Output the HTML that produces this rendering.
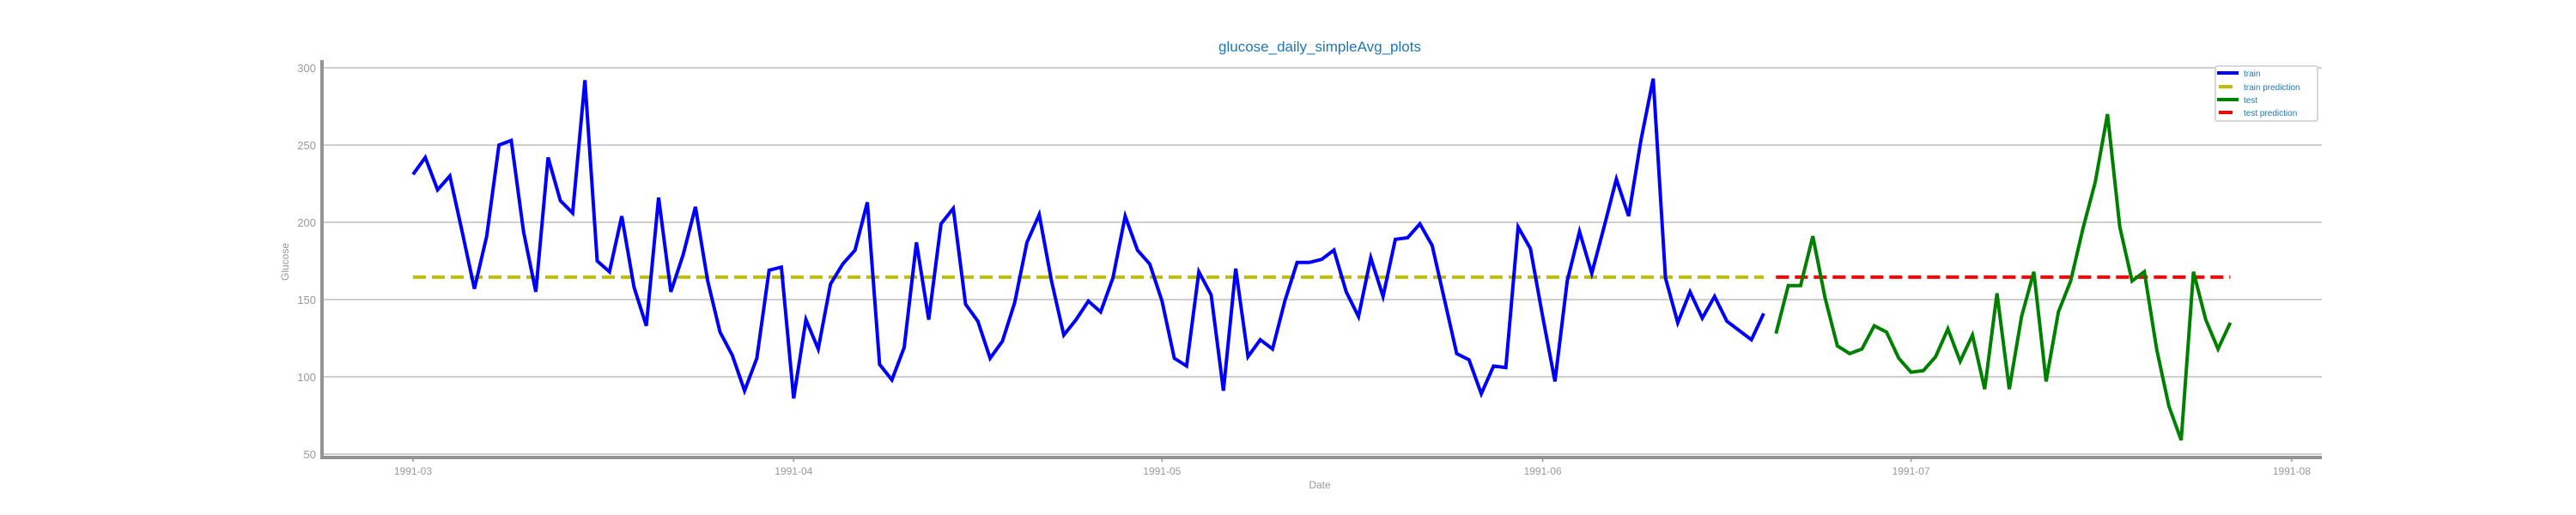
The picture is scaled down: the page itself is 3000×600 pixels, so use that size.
<!DOCTYPE html>
<html><head><meta charset="utf-8"><style>
html,body{margin:0;padding:0;background:#fff;}
svg{display:block;font-family:"Liberation Sans",sans-serif;}
</style></head><body>
<svg id="chart" width="3000" height="600" viewBox="0 0 3000 600" xmlns="http://www.w3.org/2000/svg">
<text x="1537" y="60" text-anchor="middle" font-size="17" fill="#1f77b4">glucose_daily_simpleAvg_plots</text>
<text x="336" y="305" text-anchor="middle" font-size="12" fill="#999" transform="rotate(-90 336 305)">Glucose</text>
<text x="1537" y="569" text-anchor="middle" font-size="12" fill="#999">Date</text>
<g id="grid"></g>
<g id="series"></g>
<g id="axes"></g>
<g>
<rect x="2580" y="77" width="119" height="64" fill="#fff" stroke="#ccc" stroke-width="1.5" rx="2"/>
<g><line x1="2582" y1="85" x2="2607" y2="85" stroke="#0000ff" stroke-width="4"/><text x="2613" y="89" font-size="10" fill="#1f77b4">train</text></g>
<g><line x1="2584" y1="101" x2="2600" y2="101" stroke="#bfbf00" stroke-width="4"/><text x="2613" y="105" font-size="10" fill="#1f77b4">train prediction</text></g>
<g><line x1="2582" y1="116" x2="2607" y2="116" stroke="#008000" stroke-width="4"/><text x="2613" y="120" font-size="10" fill="#1f77b4">test</text></g>
<g><line x1="2584" y1="131" x2="2600" y2="131" stroke="#ff0000" stroke-width="4"/><text x="2613" y="135" font-size="10" fill="#1f77b4">test prediction</text></g>
</g>
</svg>
<script>
const trainValues = [231,242,221,230,194,157,191,250,253,194,155,242,214,206,292,175,168,204,158,133,216,155,179,210,162,129,114,91,112,169,171,86,137,118,160,173,182,213,108,98,119,187,137,199,209,147,136,112,
123,148,187,205,162,127,137,149,142,164,204,182,173,149,112,107,168,153,91,170,113,124,118,149,174,174,176,182,155,139,177,152,189,190,199,185,150,115,111,89,107,106,197,183,139,97,162,194,167,197,228,204,253,293,164,135,155,138,152,136,130,124,141];
const testValues = [128,159,159,191,151,120,115,118,133,129,112,103,104,113,131,110,127,92,154,92,139,168,97,142,162,196,226,270,197,162,168,118,81,59,168,137,118,135];
const trainPred = 164.5;
const testPred = 164.5;
const yTicks = [50,100,150,200,250,300];
const xTickLabels = ['1991-03','1991-04','1991-05','1991-06','1991-07','1991-08'];
const xTickDays = [0,31,61,92,122,153];

const NS='http://www.w3.org/2000/svg';
const X0=375,X1=2704,Y0=70,YB=533;
function yScale(v){return 79+(300-v)*1.8;}
function xScale(d){return 481+d*14.3;}
function mk(tag,attrs,parent){const e=document.createElementNS(NS,tag);for(const k in attrs)e.setAttribute(k,attrs[k]);parent.appendChild(e);return e;}
const grid=document.getElementById('grid'),series=document.getElementById('series'),axes=document.getElementById('axes');
yTicks.forEach(t=>{
  const y=yScale(t);
  const l=mk('line',{x1:X0,x2:X1,y1:y,y2:y,stroke:'#cfcfcf','stroke-width':2},grid);
  
  
  const tx=mk('text',{x:368,y:y+5,'text-anchor':'end','font-size':13,fill:'#999'},axes);
  tx.textContent=t;
  
  
});
xTickDays.forEach((d,i)=>{
  const x=xScale(d);
  const tk=mk('line',{x1:x,x2:x,y1:YB,y2:YB+5,stroke:'#999','stroke-width':1.5},axes);
  
  
  const tx=mk('text',{x:x,y:553,'text-anchor':'middle','font-size':12,fill:'#999'},axes);
  tx.textContent=xTickLabels[i];
  
  
});
const ls=mk('line',{x1:X0,x2:X0,y1:Y0,y2:YB+2,stroke:'#939393','stroke-width':4},axes);


const bs=mk('line',{x1:X0-2,x2:X1,y1:YB,y2:YB,stroke:'#939393','stroke-width':4},axes);



const nTrain=trainValues.length;
const tp=mk('line',{x1:xScale(0),x2:xScale(nTrain-1),y1:yScale(trainPred),y2:yScale(trainPred),stroke:'#bfbf00','stroke-width':4,'stroke-dasharray':'15 7'},series);


const ep=mk('line',{x1:xScale(nTrain),x2:xScale(nTrain+testValues.length-1),y1:yScale(testPred),y2:yScale(testPred),stroke:'#ff0000','stroke-width':4,'stroke-dasharray':'15 7'},series);


const trp=mk('polyline',{points:trainValues.map((v,i)=>xScale(i)+','+yScale(v)).join(' '),fill:'none',stroke:'#0000ff','stroke-width':4,'stroke-linejoin':'miter'},series);


const tsp=mk('polyline',{points:testValues.map((v,i)=>xScale(nTrain+i)+','+yScale(v)).join(' '),fill:'none',stroke:'#008000','stroke-width':4,'stroke-linejoin':'miter'},series);


</script>
</body></html>
